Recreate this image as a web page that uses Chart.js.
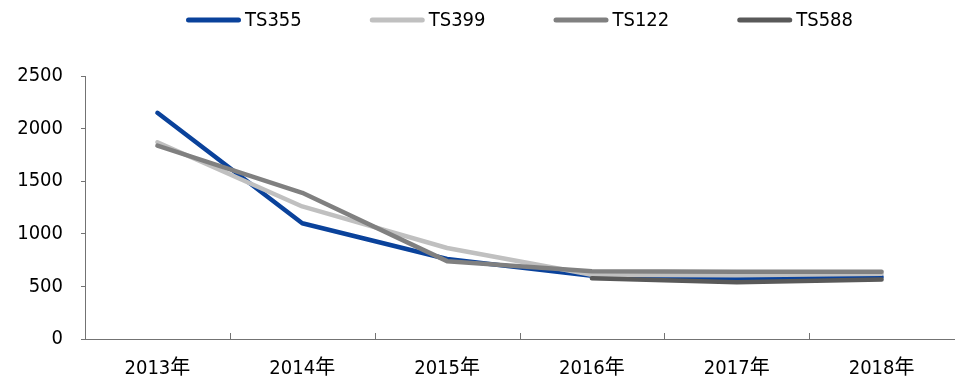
<!DOCTYPE html>
<html>
<head>
<meta charset="utf-8">
<script src="https://cdn.jsdelivr.net/npm/chart.js@4.4.0/dist/chart.umd.min.js"></script>
<style>
  html, body { margin: 0; padding: 0; background: #ffffff; }
  #wrap { width: 955px; height: 380px; position: relative; }
</style>
</head>
<body>
<div id="wrap"><canvas id="chart"></canvas></div>
<script>
// Annual values per model
const categories = ['2013年', '2014年', '2015年', '2016年', '2017年', '2018年'];
const seriesNames = ['TS355', 'TS399', 'TS122', 'TS588'];
const ts355 = [2150, 1100, 760, 600, 575, 590];
const ts399 = [1870, 1260, 865, 610, 605, 620];
const ts122 = [1838, 1390, 740, 645, 640, 640];
const ts588 = [null, null, null, 578, 540, 565];
const yTicks = [0, 500, 1000, 1500, 2000, 2500];

const seriesColors = ['#0a429b', '#c0c0c0', '#808080', '#595959'];
const FONT = '"DejaVu Sans Condensed", "DejaVu Sans", "Noto Sans CJK SC", sans-serif';
const FONT_SIZE = 20;
const AXIS_COLOR = '#737373';

const seriesValues = [ts355, ts399, ts122, ts588];

const datasets = seriesNames.map((name, i) => ({
  label: name,
  data: seriesValues[i],
  borderColor: seriesColors[i],
  backgroundColor: seriesColors[i],
  borderWidth: 4.5,
  borderCapStyle: 'round',
  borderJoinStyle: 'round',
  pointRadius: 0,
  pointHoverRadius: 0,
  tension: 0,
  spanGaps: false,
  // later series are painted over earlier ones
  order: seriesNames.length - i
}));

// Legend row: short line sample followed by the series name, centred over the plot
const lineLegend = {
  id: 'lineLegend',
  afterDraw(chart) {
    const ctx = chart.ctx;
    const area = chart.chartArea;
    const sample = 55, gapText = 4, gapItem = 68;
    ctx.save();
    ctx.font = FONT_SIZE + 'px ' + FONT;
    const widths = seriesNames.map(n => ctx.measureText(n).width);
    const total = widths.reduce((a, w) => a + sample + gapText + w, 0) + gapItem * (seriesNames.length - 1);
    let x = (area.left + area.right) / 2 - total / 2;
    const y = 20;
    seriesNames.forEach((name, i) => {
      ctx.strokeStyle = seriesColors[i];
      ctx.lineWidth = 5;
      ctx.lineCap = 'round';
      ctx.beginPath();
      ctx.moveTo(x + 2.5, y);
      ctx.lineTo(x + sample - 2.5, y);
      ctx.stroke();
      ctx.fillStyle = '#000000';
      ctx.textBaseline = 'middle';
      ctx.textAlign = 'left';
      ctx.fillText(name, x + sample + gapText, y + 1);
      x += sample + gapText + widths[i] + gapItem;
    });
    ctx.restore();
  }
};

// Short inward tick marks on the category axis, at the category boundaries
const categoryTicks = {
  id: 'categoryTicks',
  afterDatasetsDraw(chart) {
    const xs = chart.scales.x;
    const ctx = chart.ctx;
    const bottom = chart.chartArea.bottom;
    ctx.save();
    ctx.strokeStyle = AXIS_COLOR;
    ctx.lineWidth = 1;
    for (let i = 0; i < categories.length - 1; i++) {
      const bx = Math.round((xs.getPixelForValue(i) + xs.getPixelForValue(i + 1)) / 2) + 0.5;
      ctx.beginPath();
      ctx.moveTo(bx, bottom);
      ctx.lineTo(bx, bottom - 6);
      ctx.stroke();
    }
    ctx.restore();
  }
};

new Chart(document.getElementById('chart'), {
  type: 'line',
  data: { labels: categories, datasets },
  options: {
    responsive: true,
    maintainAspectRatio: false,
    animation: false,
    devicePixelRatio: 1,
    layout: { padding: { top: 76, right: 1, bottom: 0, left: 0 } },
    plugins: {
      legend: { display: false },
      tooltip: { enabled: false }
    },
    scales: {
      x: {
        type: 'category',
        offset: true,
        grid: { display: false },
        border: { display: true, color: AXIS_COLOR, width: 1 },
        ticks: {
          color: '#000000',
          font: { family: FONT, size: FONT_SIZE },
          padding: 10,
          maxRotation: 0,
          autoSkip: false
        },
        afterFit(scale) { scale.height = 41; }
      },
      y: {
        min: 0,
        max: 2500,
        afterBuildTicks(scale) { scale.ticks = yTicks.map(v => ({ value: v })); },
        grid: {
          drawOnChartArea: false,
          drawTicks: true,
          tickLength: 4,
          color: AXIS_COLOR
        },
        border: { display: true, color: AXIS_COLOR, width: 1 },
        ticks: {
          color: '#000000',
          font: { family: FONT, size: FONT_SIZE },
          padding: 18,
          callback: v => String(v)
        },
        afterFit(scale) { scale.width = 85; }
      }
    }
  },
  plugins: [lineLegend, categoryTicks]
});
</script>
</body>
</html>
